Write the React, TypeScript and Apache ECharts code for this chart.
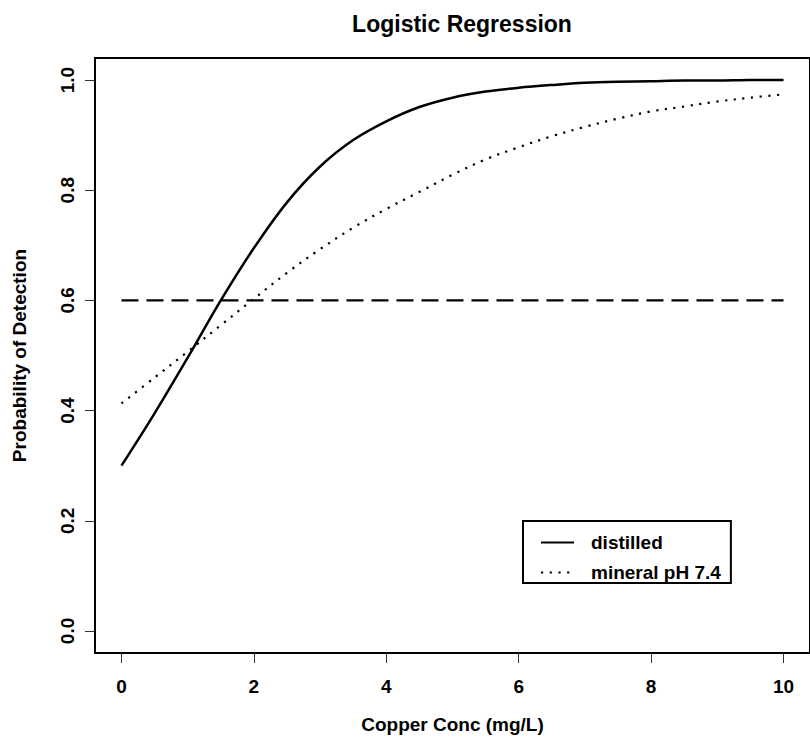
import React, { useEffect, useRef } from "react";
import * as echarts from "echarts";

const xValues = [0, 0.5, 1, 1.5, 2, 2.5, 3, 3.5, 4, 4.5, 5, 5.5, 6, 6.5, 7, 7.5, 8, 8.5, 9, 9.5, 10];
const distilled = [0.300, 0.395, 0.496, 0.600, 0.695, 0.778, 0.843, 0.891, 0.925, 0.951, 0.968, 0.979, 0.986, 0.991, 0.995, 0.997, 0.998, 0.999, 0.999, 1.0, 1.0];
const mineral = [0.413, 0.460, 0.507, 0.555, 0.603, 0.650, 0.693, 0.732, 0.766, 0.797, 0.828, 0.856, 0.878, 0.898, 0.915, 0.930, 0.943, 0.952, 0.961, 0.968, 0.974];
const thresholdX = [0, 10];
const thresholdLevel = 0.6;
const xTicks = [0, 2, 4, 6, 8, 10];
const yTicks = [0, 0.2, 0.4, 0.6, 0.8, 1.0];
const seriesNames = ["distilled", "mineral pH 7.4"];

const FONT = "'Liberation Sans', Arial, Helvetica, sans-serif";

export default function App() {
  const ref = useRef<HTMLDivElement>(null);
  useEffect(() => {
    document.body.style.margin = "0";
    const chart = echarts.init(ref.current!, null, { renderer: "svg" });
    const pair = (ys: number[]) => xValues.map((x, i) => [x, ys[i]]);
    chart.setOption({
      animation: false,
      backgroundColor: "#ffffff",
      textStyle: { fontFamily: FONT },
      title: {
        text: "Logistic Regression",
        left: 457,
        textAlign: "center",
        top: 7,
        textStyle: { fontSize: 23, fontWeight: "bold", color: "#000", fontFamily: FONT },
      },
      grid: {
        show: true,
        left: 95,
        top: 58,
        width: 723.5,
        height: 595,
        borderColor: "#000",
        borderWidth: 2,
        backgroundColor: "transparent",
      },
      xAxis: {
        type: "value",
        min: -0.4,
        max: 10.4,
        name: "Copper Conc (mg/L)",
        nameLocation: "middle",
        nameGap: 62,
        nameTextStyle: { fontSize: 19, fontWeight: "bold", color: "#000", fontFamily: FONT },
        axisLine: { show: false, onZero: false },
        splitLine: { show: false },
        axisTick: { show: true, length: 10, inside: false, customValues: xTicks, lineStyle: { color: "#333", width: 1 } },
        axisLabel: {
          customValues: xTicks,
          margin: 24,
          fontSize: 19,
          fontWeight: "bold",
          color: "#000",
          fontFamily: FONT,
        },
      },
      yAxis: {
        type: "value",
        min: -0.04,
        max: 1.04,
        name: "Probability of Detection",
        nameLocation: "middle",
        nameGap: 66,
        nameRotate: 90,
        nameTextStyle: { fontSize: 19, fontWeight: "bold", color: "#000", fontFamily: FONT },
        axisLine: { show: false, onZero: false },
        splitLine: { show: false },
        axisTick: { show: true, length: 10, inside: false, customValues: yTicks, lineStyle: { color: "#333", width: 1 } },
        axisLabel: {
          customValues: yTicks,
          rotate: 90,
          margin: 18,
          fontSize: 19,
          fontWeight: "bold",
          color: "#000",
          fontFamily: FONT,
          formatter: (v: number) => v.toFixed(1),
        },
      },
      legend: {
        data: seriesNames,
        orient: "vertical",
        left: 523,
        top: 521,
        padding: [12, 10, 1, 17],
        itemWidth: 33,
        itemHeight: 14,
        itemGap: 11,
        borderColor: "#000",
        borderWidth: 2,
        backgroundColor: "#fff",
        itemStyle: { opacity: 0 },
        textStyle: { fontSize: 19, fontWeight: "bold", color: "#000", fontFamily: FONT, padding: [0, 0, 0, 12] },
      },
      series: [
        {
          name: seriesNames[0],
          type: "line",
          data: pair(distilled),
          smooth: 0.35,
          symbol: "none",
          lineStyle: { color: "#000", width: 2.5 },
          itemStyle: { color: "#000" },
          z: 3,
        },
        {
          name: seriesNames[1],
          type: "line",
          data: pair(mineral),
          smooth: 0.35,
          symbol: "none",
          lineStyle: { color: "#000", width: 2.2, type: [2.2, 6.5] },
          itemStyle: { color: "#000" },
          z: 3,
        },
        {
          name: "threshold",
          type: "line",
          data: thresholdX.map((x) => [x, thresholdLevel]),
          symbol: "none",
          lineStyle: { color: "#000", width: 2.2, type: [17, 8] },
          itemStyle: { color: "#000" },
          z: 2,
        },
      ],
    });
    return () => chart.dispose();
  }, []);
  return <div ref={ref} style={{ width: 810, height: 740 }} />;
}
